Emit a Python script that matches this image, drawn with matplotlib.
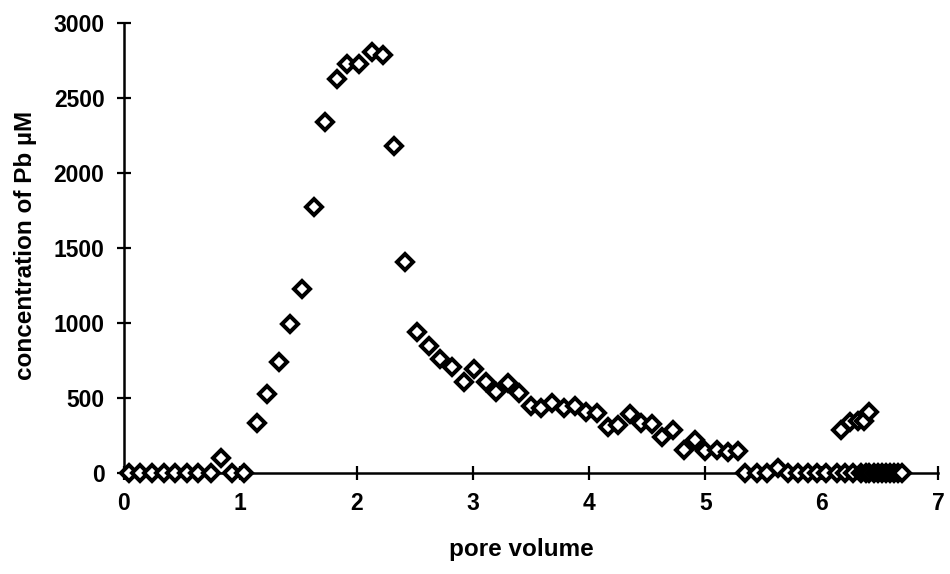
import matplotlib
matplotlib.use("Agg")
import matplotlib.pyplot as plt

# --- data ---
pore_volume = [
    0.04, 0.14, 0.24, 0.34, 0.44, 0.54, 0.64, 0.75, 0.83, 0.93, 1.03,
    1.14, 1.23, 1.33, 1.43, 1.53, 1.63, 1.73, 1.83, 1.92, 2.02, 2.13, 2.23,
    2.32, 2.42, 2.52, 2.62, 2.72, 2.82, 2.92, 3.01, 3.11, 3.20, 3.30, 3.40,
    3.50, 3.59, 3.68, 3.78, 3.88, 3.97, 4.07, 4.16, 4.25, 4.35, 4.45, 4.54,
    4.63, 4.72, 4.82, 4.91, 5.00, 5.10, 5.19, 5.28,
    5.34, 5.44, 5.53, 5.62, 5.71, 5.80, 5.88, 5.96, 6.04, 6.13, 6.20, 6.27,
    6.34, 6.38, 6.41, 6.45, 6.48, 6.52, 6.55, 6.59, 6.62, 6.66, 6.69,
    6.17, 6.24, 6.31, 6.36, 6.41,
]
pb_conc = [
    0, 0, 0, 0, 0, 0, 0, 0, 100, 0, 0,
    335, 525, 738, 991, 1224, 1775, 2340, 2625, 2730, 2727, 2810, 2787,
    2180, 1404, 942, 847, 758, 709, 609, 691, 609, 542, 602, 531,
    449, 431, 469, 431, 449, 409, 402, 309, 320, 393, 331, 325,
    240, 287, 153, 218, 145, 153, 140, 150,
    0, 0, 0, 31, 0, 0, 0, 0, 0, 0, 0, 0,
    0, 0, 0, 0, 0, 0, 0, 0, 0, 0, 0,
    287, 340, 350, 345, 410,
]
x_ticks = [0, 1, 2, 3, 4, 5, 6, 7]
y_ticks = [0, 500, 1000, 1500, 2000, 2500, 3000]

plt.rcParams['font.family'] = ['Liberation Sans', 'DejaVu Sans']
plt.rcParams['font.weight'] = 'bold'

fig = plt.figure(figsize=(9.5, 5.74), dpi=100)
ax = fig.add_axes([124 / 950, 101 / 574, 814 / 950, 450 / 574])

ax.plot(pore_volume, pb_conc, linestyle='none', marker='D', markersize=8.2,
        markerfacecolor='white', markeredgecolor='black', markeredgewidth=2.9,
        clip_on=False, zorder=3)

ax.set_xlim(0, 7)
ax.set_ylim(0, 3000)
ax.set_xticks(x_ticks)
ax.set_yticks(y_ticks)
ax.set_xticklabels([str(t) for t in x_ticks], fontsize=16.5, fontweight='bold')
ax.set_yticklabels([str(t) for t in y_ticks], fontsize=16.5, fontweight='bold')

for s in ['top', 'right']:
    ax.spines[s].set_visible(False)
for s in ['left', 'bottom']:
    ax.spines[s].set_linewidth(1.8)
    ax.spines[s].set_color('black')

ax.tick_params(axis='both', direction='inout', length=10, width=1.6,
               colors='black', pad=9)

ax.set_xlabel('pore volume', fontsize=17.5, fontweight='bold')
ax.set_ylabel('concentration of Pb µM', fontsize=17.5, fontweight='bold')
ax.xaxis.set_label_coords(0.488, -0.171)
ax.yaxis.set_label_coords(-0.1216, 0.506)
ax.xaxis.label.set_va('center')
ax.yaxis.label.set_va('center')

fig.savefig('out.png', dpi=100, facecolor='white')
